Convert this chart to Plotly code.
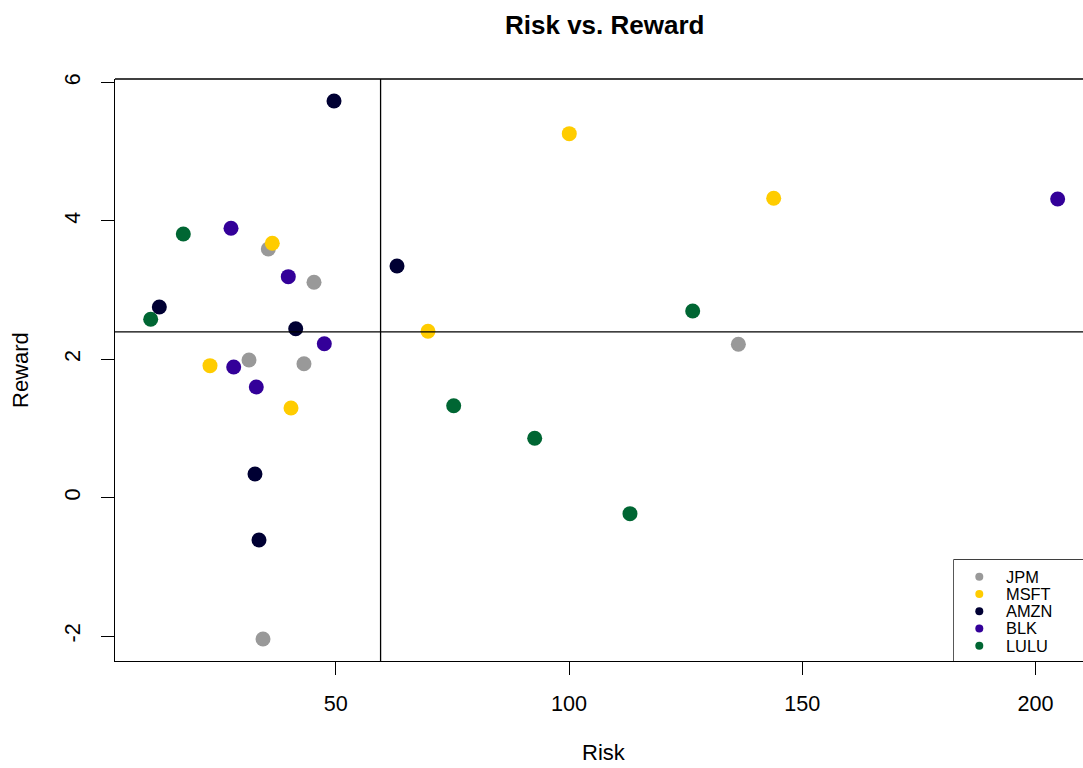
import numpy as np
import plotly.graph_objects as go

tickers = ["JPM", "MSFT", "AMZN", "BLK", "LULU"]
colors = ["#999999", "#FFCC00", "#000033", "#330099", "#006633"]

risk_jpm = [35.56, 45.35, 31.42, 43.2, 34.42, 136.3]
reward_jpm = [3.594, 3.113, 1.99, 1.936, -2.042, 2.217]
risk_msft = [36.41, 100.06, 143.87, 69.78, 23.06, 40.42]
reward_msft = [3.676, 5.26, 4.327, 2.405, 1.908, 1.296]
risk_amzn = [49.64, 12.2, 41.43, 63.14, 32.7, 33.56]
reward_amzn = [5.733, 2.756, 2.442, 3.348, 0.342, -0.611]
risk_blk = [27.56, 39.84, 47.56, 28.14, 32.98, 204.73]
reward_blk = [3.893, 3.194, 2.225, 1.889, 1.6, 4.316]
risk_lulu = [17.34, 10.35, 75.29, 92.65, 113.07, 126.51]
reward_lulu = [3.811, 2.578, 1.329, 0.858, -0.231, 2.698]

x_ticks = [50, 100, 150, 200]
y_ticks = [-2, 0, 2, 4, 6]
y_tick_labels = ["-2", "0", "2", "4", "6"]

risks = [risk_jpm, risk_msft, risk_amzn, risk_blk, risk_lulu]
rewards = [reward_jpm, reward_msft, reward_amzn, reward_blk, reward_lulu]

FONT = "Liberation Sans, Arial, sans-serif"
W, H = 1083, 768
L, R, T, B = 115, 0, 79, 107

fig = go.Figure()
for name, c, xs, ys in zip(tickers, colors, risks, rewards):
    fig.add_trace(go.Scatter(x=xs, y=ys, mode="markers", name=name,
                             marker=dict(color=c, size=15, line=dict(width=0)),
                             showlegend=False))

mean_risk = float(np.mean(np.concatenate(risks)))
mean_reward = float(np.mean(np.concatenate(rewards)))

# legend via an overlay axis (item index scale)
leg_idx = list(range(len(tickers)))
fig.add_trace(go.Scatter(x=[0] * len(tickers), y=leg_idx, mode="markers",
                         marker=dict(color=colors, size=8, line=dict(width=0)),
                         xaxis="x2", yaxis="y2", showlegend=False, hoverinfo="skip"))

pw = W - L - R
ph = H - T - B
leg_left_px = 954
leg_top_px = 560
x2_dom0 = (leg_left_px - L) / pw
y2_dom1 = (H - B - leg_top_px) / ph
item_h = 17.25
first_px = 576.7
y2_top = (leg_top_px - first_px) / item_h
y2_bot = (H - B - first_px) / item_h
dot_off = 979.3 - leg_left_px
x2_w = W - leg_left_px

annotations = []
for i, name in enumerate(tickers):
    annotations.append(dict(x=24.5, y=i, xref="x2", yref="y2", text=name,
                            showarrow=False, xanchor="left", yanchor="middle",
                            font=dict(family=FONT, size=16.4, color="black")))

annotations.append(dict(text="Risk", x=(604 - L) / pw, y=(H - B - 753) / ph,
                        xref="paper", yref="paper", showarrow=False,
                        xanchor="center", yanchor="middle",
                        font=dict(family=FONT, size=22, color="black")))
annotations.append(dict(text="Reward", x=(20 - L) / pw, y=(H - B - 370) / ph,
                        xref="paper", yref="paper", showarrow=False, textangle=-90,
                        xanchor="center", yanchor="middle",
                        font=dict(family=FONT, size=22, color="black")))
annotations.append(dict(text="<b>Risk vs. Reward</b>", x=(604 - L) / pw, y=(H - B - 25) / ph,
                        xref="paper", yref="paper", showarrow=False,
                        xanchor="center", yanchor="middle",
                        font=dict(family=FONT, size=26, color="black")))

shapes = [
    dict(type="line", xref="paper", yref="y", x0=0, x1=1, y0=mean_reward, y1=mean_reward,
         line=dict(color="black", width=1.3)),
    dict(type="line", xref="x", yref="paper", x0=mean_risk, x1=mean_risk, y0=0, y1=1,
         line=dict(color="black", width=1.3)),
    dict(type="line", xref="paper", yref="paper", x0=0, x1=1.2, y0=1, y1=1,
         line=dict(color="black", width=1.3)),
    dict(type="rect", xref="x2 domain", yref="y2 domain", x0=0, x1=1.3, y0=0, y1=1,
         line=dict(color="black", width=1.3), fillcolor="white", layer="below"),
]

fig.update_layout(
    width=W, height=H,
    margin=dict(l=L, r=R, t=T, b=B, pad=0),
    paper_bgcolor="white", plot_bgcolor="white",
    font=dict(family=FONT, size=21.6, color="black"),
    showlegend=False,
    xaxis=dict(range=[2.70, 210.16], tickvals=x_ticks, ticks="outside", ticklen=13,
               tickwidth=1.3, tickcolor="black", showline=True, linecolor="black",
               linewidth=1.3, showgrid=False, zeroline=False, ticklabelstandoff=10,
               tickfont=dict(family=FONT, size=21.6)),
    yaxis=dict(range=[-2.36, 6.05], tickvals=y_ticks, ticktext=y_tick_labels,
               ticks="outside", ticklen=13,
               tickwidth=1.3, tickcolor="black", showline=True, linecolor="black",
               linewidth=1.3, showgrid=False, zeroline=False, tickangle=-90,
               ticklabelstandoff=12, tickfont=dict(family=FONT, size=21.6)),
    xaxis2=dict(domain=[x2_dom0, 1], range=[-dot_off, x2_w - dot_off], visible=False,
                anchor="y2", fixedrange=True),
    yaxis2=dict(domain=[0, y2_dom1], range=[y2_bot, y2_top], visible=False,
                anchor="x2", fixedrange=True),
    shapes=shapes,
    annotations=annotations,
)

fig.write_html("out.html", config={"displayModeBar": False},
               post_script="document.body.style.margin='0px';document.body.style.overflow='hidden';")
